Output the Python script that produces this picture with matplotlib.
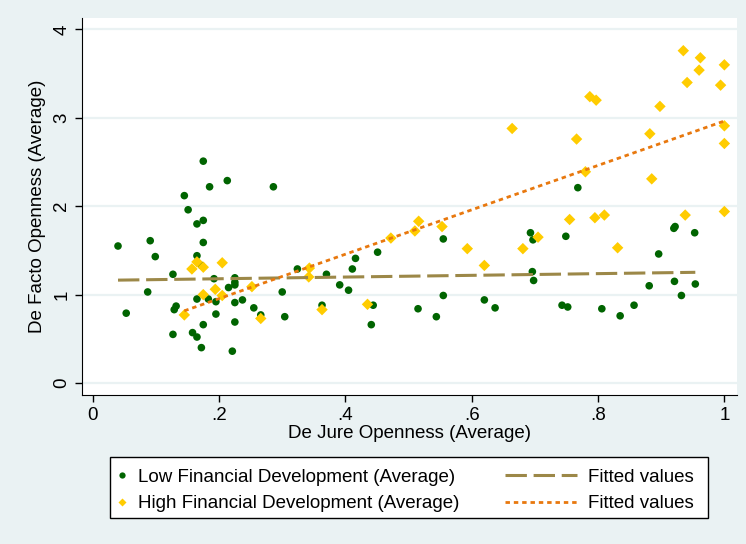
import numpy as np
import matplotlib
matplotlib.use('Agg')
import matplotlib.pyplot as plt
from matplotlib.patches import Rectangle
from matplotlib.lines import Line2D

plt.rcParams['font.family'] = ['Liberation Sans', 'DejaVu Sans']

########## data ##########
low_x = [0.040, 0.053, 0.087, 0.091, 0.099, 0.127, 0.127, 0.129, 0.132, 0.145,
         0.151, 0.158, 0.165, 0.165, 0.165, 0.165, 0.172, 0.172, 0.175, 0.175,
         0.175, 0.175, 0.183, 0.185, 0.192, 0.195, 0.195, 0.213, 0.215, 0.221,
         0.225, 0.225, 0.225, 0.225, 0.225, 0.237, 0.255, 0.266, 0.286, 0.300,
         0.304, 0.324, 0.363, 0.370, 0.391, 0.405, 0.411, 0.416, 0.441, 0.444,
         0.451, 0.515, 0.544, 0.555, 0.555, 0.620, 0.637, 0.693, 0.697, 0.696,
         0.698, 0.743, 0.749, 0.752, 0.768, 0.806, 0.835, 0.857, 0.881, 0.896,
         0.920, 0.922, 0.921, 0.932, 0.953, 0.954]
low_y = [1.55, 0.79, 1.03, 1.61, 1.43, 1.23, 0.55, 0.83, 0.87, 2.12,
         1.96, 0.57, 1.80, 1.44, 0.95, 0.52, 1.33, 0.40, 2.51, 1.84,
         1.59, 0.66, 0.95, 2.22, 1.18, 0.92, 0.78, 2.29, 1.08, 0.36,
         1.19, 1.14, 1.11, 0.91, 0.69, 0.94, 0.85, 0.77, 2.22, 1.03,
         0.75, 1.29, 0.88, 1.23, 1.11, 1.05, 1.29, 1.41, 0.66, 0.88,
         1.48, 0.84, 0.75, 0.99, 1.63, 0.94, 0.85, 1.70, 1.62, 1.26,
         1.16, 0.88, 1.66, 0.86, 2.21, 0.84, 0.76, 0.88, 1.10, 1.46,
         1.75, 1.77, 1.15, 0.99, 1.70, 1.12]

high_x = [0.145, 0.157, 0.165, 0.175, 0.175, 0.194, 0.205, 0.205, 0.252, 0.266,
          0.342, 0.343, 0.363, 0.435, 0.472, 0.510, 0.516, 0.553, 0.593, 0.620,
          0.664, 0.681, 0.705, 0.755, 0.766, 0.780, 0.787, 0.797, 0.795, 0.810,
          0.831, 0.882, 0.885, 0.898, 0.935, 0.938, 0.941, 0.960, 0.962, 0.994,
          1.000, 1.000, 1.000, 1.000]
high_y = [0.77, 1.29, 1.37, 1.31, 1.00, 1.06, 1.36, 0.99, 1.09, 0.73,
          1.20, 1.30, 0.83, 0.89, 1.64, 1.72, 1.83, 1.77, 1.52, 1.33,
          2.88, 1.52, 1.65, 1.85, 2.76, 2.39, 3.24, 3.20, 1.87, 1.90,
          1.53, 2.82, 2.31, 3.13, 3.76, 1.90, 3.40, 3.54, 3.68, 3.37,
          3.60, 2.91, 2.71, 1.94]

x_ticks = [0, 0.2, 0.4, 0.6, 0.8, 1.0]
x_ticklabels = ['0', '.2', '.4', '.6', '.8', '1']
y_ticks = [0, 1, 2, 3, 4]

########## colours ##########
bg = '#eaf2f3'
green = '#006400'
gold = '#ffcc00'
sand = '#9c8848'
orange = '#e8780e'
fs = 13.5


def fitted(x, y):
    x = np.asarray(x)
    b, a = np.polyfit(x, y, 1)
    xs = np.sort(x)
    return xs, a + b * xs


fig = plt.figure(figsize=(7.46, 5.44), dpi=100, facecolor=bg)
ax = fig.add_axes([82 / 746, 1 - 395 / 544, 655 / 746, 377 / 544])
ax.set_facecolor('white')

for y in y_ticks:
    ax.axhline(y, color=bg, lw=1.6, zorder=0)

lx, ly = fitted(low_x, low_y)
hx, hy = fitted(high_x, high_y)

ax.scatter(low_x, low_y, s=30, color=green, edgecolors='none', zorder=3)
ax.scatter(high_x, high_y, s=34, marker='D', color=gold, edgecolors='none', zorder=3)
ax.plot(lx, ly, color=sand, lw=2.2, dashes=(7, 2.2), zorder=4)
ax.plot(hx, hy, color=orange, lw=2.0, dashes=(1.6, 1.4), zorder=4)

ax.set_xlim(-0.017, 1.02)
ax.set_ylim(-0.136, 4.13)
ax.set_xticks(x_ticks)
ax.set_xticklabels(x_ticklabels)
ax.set_yticks(y_ticks)
ax.set_yticklabels([str(v) for v in y_ticks], rotation=90, va='center')
ax.tick_params(direction='out', length=5, width=1, colors='black', labelsize=fs)
ax.spines['top'].set_visible(False)
ax.spines['right'].set_visible(False)
ax.set_xlabel('De Jure Openness (Average)', fontsize=fs, labelpad=1)
ax.set_ylabel('De Facto Openness (Average)', fontsize=fs, labelpad=5)

########## legend ##########
fig.patches.append(Rectangle((110 / 746, 1 - 518 / 544), 598 / 746, 61 / 544,
                             transform=fig.transFigure, facecolor='white',
                             edgecolor='black', lw=1))
h_low = Line2D([], [], ls='none', marker='o', ms=4.5, color=green, mec='none')
h_high = Line2D([], [], ls='none', marker='D', ms=4.5, color=gold, mec='none')
fig.legend([h_low, h_high],
           ['Low Financial Development (Average)', 'High Financial Development (Average)'],
           loc='center left', bbox_to_anchor=(109 / 746, 1 - 490.5 / 544),
           borderaxespad=0, frameon=False, handlelength=0.6, handletextpad=0.55,
           fontsize=fs, labelspacing=0.5)
h_f1 = Line2D([], [], color=sand, lw=2.2, dashes=(7, 2.2))
h_f2 = Line2D([], [], color=orange, lw=2.0, dashes=(1.6, 1.4))
fig.legend([h_f1, h_f2], ['Fitted values', 'Fitted values'],
           loc='center left', bbox_to_anchor=(497.5 / 746, 1 - 490.5 / 544),
           borderaxespad=0, frameon=False, handlelength=3.85, handletextpad=0.55,
           fontsize=fs, labelspacing=0.5)

plt.savefig('out.png', dpi=100, facecolor=bg)
